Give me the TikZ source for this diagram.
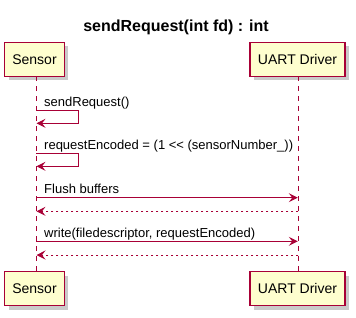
\documentclass[tikz,border=0pt]{standalone}
\usepackage{fontspec}
\setmainfont{Liberation Sans}
\usetikzlibrary{arrows.meta,shadows}
\definecolor{seqline}{HTML}{A80036}
\definecolor{seqfill}{HTML}{FEFECE}
\begin{document}
\begin{tikzpicture}[x=1pt,y=-1pt,
  participant/.style={draw=seqline, fill=seqfill, line width=1.1pt,
    minimum height=34pt, inner sep=0pt,
    font=\fontsize{14}{16}\selectfont,
    drop shadow={shadow xshift=4pt, shadow yshift=-4pt, opacity=0.35, fill=black!60}},
  lifeline/.style={draw=seqline, line width=0.9pt, dash pattern=on 5pt off 5pt},
  msg/.style={draw=seqline, line width=0.9pt, -{Stealth[length=9pt,width=9pt,inset=3.5pt]}},
  reply/.style={msg, dash pattern=on 2.5pt off 2.5pt},
  msglabel/.style={font=\fontsize{13}{15}\selectfont, anchor=base west, inner sep=0pt}]
\useasboundingbox (0,0) rectangle (356,317);

% title
\node[font=\bfseries\fontsize{16}{18}\selectfont, anchor=base] (title) at (176,31) {sendRequest(int fd) : int};

% participants, top and bottom
\node[participant, minimum width=59.5pt] (s1) at (34.5,59.3) {Sensor};
\node[participant, minimum width=95pt] (u1) at (297.5,59.3) {UART Driver};
\node[participant, minimum width=59.5pt] (s2) at (34.5,288.5) {Sensor};
\node[participant, minimum width=95pt] (u2) at (297.5,288.5) {UART Driver};

% lifelines
\coordinate (sl1) at (36,76.3);
\coordinate (sl2) at (36,271.5);
\coordinate (ul1) at (298.3,76.3);
\coordinate (ul2) at (298.3,271.5);
\draw[lifeline] (sl1) -- (sl2);
\draw[lifeline] (ul1) -- (ul2);

% message 1: self call
\node[msglabel] (m1) at (44,106) {sendRequest()};
\coordinate (a1) at (36,110.7);
\coordinate (b1) at (36.5,123.3);
\draw[msg] (a1) -- (78.3,110.7) -- (78.3,123.3) -- (b1);

% message 2: self call
\node[msglabel] (m2) at (44,149.5) {requestEncoded = (1 {<}{<} (sensorNumber\_))};
\coordinate (a2) at (36,153.7);
\coordinate (b2) at (36.5,166.3);
\draw[msg] (a2) -- (78.3,153.7) -- (78.3,166.3) -- (b2);

% message 3 and reply
\node[msglabel] (m3) at (44,193) {Flush buffers};
\coordinate (a3) at (36,197.7);
\coordinate (b3) at (297.8,197.7);
\draw[msg] (a3) -- (b3);
\coordinate (a4) at (298.3,211.3);
\coordinate (b4) at (36.5,211.3);
\draw[reply] (a4) -- (b4);

% message 4 and reply
\node[msglabel] (m4) at (44,237) {write(filedescriptor, requestEncoded)};
\coordinate (a5) at (36,241.3);
\coordinate (b5) at (297.8,241.3);
\draw[msg] (a5) -- (b5);
\coordinate (a6) at (298.3,255);
\coordinate (b6) at (36.5,255);
\draw[reply] (a6) -- (b6);
\end{tikzpicture}
\end{document}
